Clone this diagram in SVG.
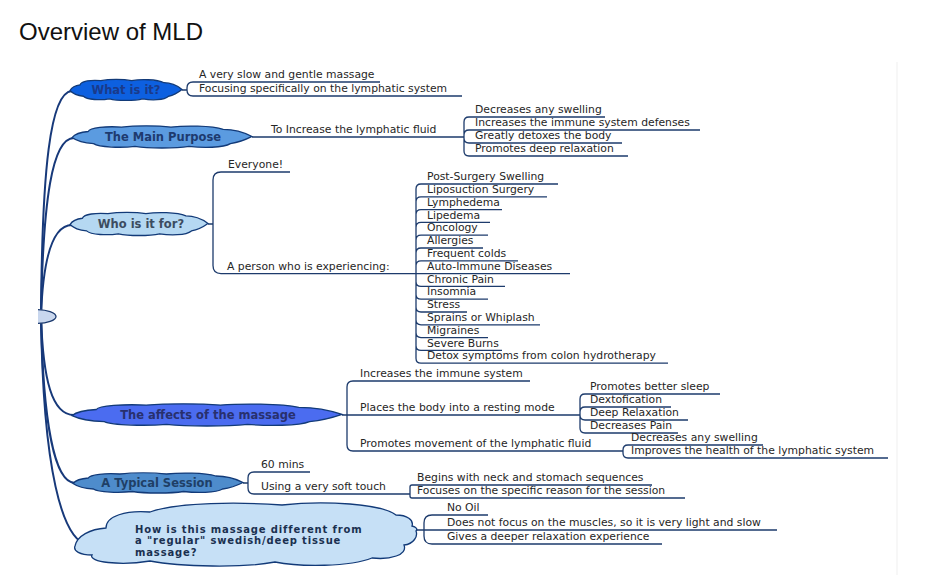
<svg xmlns="http://www.w3.org/2000/svg" xmlns:xlink="http://www.w3.org/1999/xlink" width="946" height="575" viewBox="0 0 946 575">
<style>
.title{font-family:"Liberation Sans",Arial,sans-serif;font-size:24px;fill:#111}
.t{font-family:"DejaVu Sans",Verdana,sans-serif;font-size:10.8px;fill:#262626}
.nt{font-family:"DejaVu Sans",Verdana,sans-serif;font-size:11.5px;font-weight:bold;text-anchor:middle}
.bt{font-family:"DejaVu Sans",Verdana,sans-serif;font-size:10px;font-weight:bold;letter-spacing:0.85px;fill:#1a3050}
.ln{fill:none;stroke:#1d3b6c;stroke-width:1.3}
.br{fill:none;stroke:#17397a;stroke-width:2}
.cl{stroke:#123a78;stroke-width:1.3}
</style>
<defs>
<path id="cloud" vector-effect="non-scaling-stroke" d="M -100,1 C -97,-5 -90,-9 -82,-10 C -80,-17 -62,-20 -45,-18 C -30,-21 -5,-21 10,-18 C 25,-21 55,-21 68,-14 C 80,-14 92,-8 100,-1 C 93,5 85,10 76,12 C 68,20 45,20 30,17 C 15,21 -15,21 -30,17 C -45,20 -70,19 -76,12 C -86,11 -95,7 -100,1 Z"/>
<clipPath id="clipL"><rect x="38" y="0" width="900" height="575"/></clipPath>
</defs>
<rect width="946" height="575" fill="#fff"/>
<line x1="897" y1="62" x2="897" y2="575" stroke="#efefef" stroke-width="1"/>
<text class="title" x="19" y="40">Overview of MLD</text>

<g id="connectors">
  <path class="br" d="M 41,316 C 42,170 50,92 72,91"/>
  <path class="br" d="M 41,316 C 43,200 52,138 74,138"/>
  <path class="br" d="M 41,316 C 43,260 52,225 72,225"/>
  <path class="br" d="M 41,316 C 43,380 52,415 74,415"/>
  <path class="br" d="M 41,316 C 43,420 54,483 75,483"/>
  <path class="br" d="M 41,316 C 43,470 62,540 88,545"/>

  <path class="ln" d="M 182,90 H 187 V 88 M 187,88 Q 187,82 193,82 H 380 M 187,90 Q 187,96 193,96 H 462"/>

  <path class="ln" d="M 252,137 H 464 M 464,122 V 151 M 464,122 Q 464,117 469,117 H 605 M 464,135 Q 464,130 469,130 H 700 M 464,138 Q 464,143 469,143 H 622 M 464,151 Q 464,156 469,156 H 628"/>

  <path class="ln" d="M 208,224 H 213 M 213,180 V 265.6 M 213,180 Q 213,172 221,172 H 290 M 213,265.6 Q 213,273.6 221,273.6 H 570"/>

  <path class="ln" d="M 416,189 V 358.2
   M 416,189 Q 416,184 421,184 H 558
   M 416,201.8 Q 416,196.8 421,196.8 H 547
   M 416,214.6 Q 416,209.6 421,209.6 H 502
   M 416,227.4 Q 416,222.4 421,222.4 H 490
   M 416,240.2 Q 416,235.2 421,235.2 H 488
   M 416,253 Q 416,248 421,248 H 483
   M 416,265.8 Q 416,260.8 421,260.8 H 518
   M 416,281.4 Q 416,286.4 421,286.4 H 505
   M 416,294.2 Q 416,299.2 421,299.2 H 488
   M 416,307 Q 416,312 421,312 H 467
   M 416,319.8 Q 416,324.8 421,324.8 H 540
   M 416,332.6 Q 416,337.6 421,337.6 H 488
   M 416,345.4 Q 416,350.4 421,350.4 H 502
   M 416,358.2 Q 416,363.2 421,363.2 H 668"/>

  <path class="ln" d="M 342,415 H 580 M 347,387 V 445 M 347,387 Q 347,381 353,381 H 530 M 347,445 Q 347,451 353,451 H 623"/>
  <path class="ln" d="M 580,399 V 428 M 580,399 Q 580,394 585,394 H 720 M 580,412 Q 580,407 585,407 H 671 M 580,415 Q 580,420 585,420 H 688 M 580,428 Q 580,433 585,433 H 678"/>
  <path class="ln" d="M 623,450 V 453 M 623,450 Q 623,445 628,445 H 763 M 623,453 Q 623,458 628,458 H 888"/>

  <path class="ln" d="M 243,483 H 248 M 248,478 V 488 M 248,478 Q 248,472 254,472 H 310 M 248,488 Q 248,494 254,494 H 410"/>
  <path class="ln" d="M 410,487 V 496 M 410,487 Q 410,485 412,485 H 652 M 410,496 Q 410,498 412,498 H 685"/>

  <path class="ln" d="M 416,530 H 777 M 424,523 V 536 M 424,523 Q 424,515 432,515 H 488 M 424,536 Q 424,544 432,544 H 662"/>
</g>

<g id="root" clip-path="url(#clipL)">
  <ellipse cx="36" cy="316.5" rx="20" ry="7" fill="#c9d7ee" stroke="#1c3a6e" stroke-width="1.3"/>
</g>

<g id="what-is-it">
  <use xlink:href="#cloud" class="cl" fill="#0d60e0" transform="translate(126,90) scale(0.56,0.52)"/>
  <text class="nt" x="126" y="94" fill="#1a3a8a">What is it?</text>
</g>
<g id="what-is-it-items">
  <text class="t" x="199" y="78">A very slow and gentle massage</text>
  <text class="t" x="199" y="92">Focusing specifically on the lymphatic system</text>
</g>

<g id="main-purpose">
  <use xlink:href="#cloud" class="cl" fill="#5b9be0" transform="translate(162,137) scale(0.9,0.55)"/>
  <text class="nt" x="163" y="141" fill="#1e3a6e">The Main Purpose</text>
</g>
<g id="main-purpose-items">
  <text class="t" x="271" y="133">To Increase the lymphatic fluid</text>
  <text class="t" x="475" y="113">Decreases any swelling</text>
  <text class="t" x="475" y="126">Increases the immune system defenses</text>
  <text class="t" x="475" y="139">Greatly detoxes the body</text>
  <text class="t" x="475" y="152">Promotes deep relaxation</text>
</g>

<g id="who-is-it-for">
  <use xlink:href="#cloud" class="cl" fill="#b5d8f2" transform="translate(139,224) scale(0.69,0.575)"/>
  <text class="nt" x="141" y="228" fill="#3c4c60">Who is it for?</text>
</g>
<g id="who-items">
  <text class="t" x="228" y="168">Everyone!</text>
  <text class="t" x="227" y="269.5">A person who is experiencing:</text>
  <text class="t" x="427" y="180.2">Post-Surgery Swelling</text>
  <text class="t" x="427" y="193">Liposuction Surgery</text>
  <text class="t" x="427" y="205.8">Lymphedema</text>
  <text class="t" x="427" y="218.6">Lipedema</text>
  <text class="t" x="427" y="231.4">Oncology</text>
  <text class="t" x="427" y="244.2">Allergies</text>
  <text class="t" x="427" y="257">Frequent colds</text>
  <text class="t" x="427" y="269.8">Auto-Immune Diseases</text>
  <text class="t" x="427" y="282.6">Chronic Pain</text>
  <text class="t" x="427" y="295.4">Insomnia</text>
  <text class="t" x="427" y="308.2">Stress</text>
  <text class="t" x="427" y="321">Sprains or Whiplash</text>
  <text class="t" x="427" y="333.8">Migraines</text>
  <text class="t" x="427" y="346.6">Severe Burns</text>
  <text class="t" x="427" y="359.4">Detox symptoms from colon hydrotherapy</text>
</g>

<g id="affects">
  <use xlink:href="#cloud" class="cl" fill="#4b6cf0" transform="translate(207,415) scale(1.35,0.55)"/>
  <text class="nt" x="208" y="419" fill="#28306e">The affects of the massage</text>
</g>
<g id="affects-items">
  <text class="t" x="360" y="377">Increases the immune system</text>
  <text class="t" x="360" y="411">Places the body into a resting mode</text>
  <text class="t" x="360" y="447">Promotes movement of the lymphatic fluid</text>
  <text class="t" x="590" y="390">Promotes better sleep</text>
  <text class="t" x="590" y="403">Dextofication</text>
  <text class="t" x="590" y="416">Deep Relaxation</text>
  <text class="t" x="590" y="429">Decreases Pain</text>
  <text class="t" x="631" y="441">Decreases any swelling</text>
  <text class="t" x="631" y="454">Improves the health of the lymphatic system</text>
</g>

<g id="typical-session">
  <use xlink:href="#cloud" class="cl" fill="#4e8ccc" transform="translate(158,483) scale(0.85,0.5)"/>
  <text class="nt" x="157" y="487" fill="#1f3f66">A Typical Session</text>
</g>
<g id="typical-items">
  <text class="t" x="261" y="468">60 mins</text>
  <text class="t" x="261" y="490">Using a very soft touch</text>
  <text class="t" x="417" y="481">Begins with neck and stomach sequences</text>
  <text class="t" x="417" y="494">Focuses on the specific reason for the session</text>
</g>

<g id="different">
  <path class="cl" fill="#c6e0f6" d="M 75,546 C 77,536 90,529 106,528 C 106,516 126,510 150,512 C 178,502 240,502 282,505 C 325,500 382,504 396,515 C 407,515 414,520 412,526 C 416,527 418,529 416,531 C 418,536 414,544 404,545 C 408,555 390,560 372,558 C 350,567 300,567 275,562 C 245,568 180,567 150,561 C 120,566 88,562 92,555 C 80,555 73,551 75,546 Z"/>
  <text class="bt" x="135" y="532.5">How is this massage different from</text>
  <text class="bt" x="135" y="544.2">a "regular" swedish/deep tissue</text>
  <text class="bt" x="135" y="555.9">massage?</text>
</g>
<g id="different-items">
  <text class="t" x="447" y="511">No Oil</text>
  <text class="t" x="447" y="526">Does not focus on the muscles, so it is very light and slow</text>
  <text class="t" x="447" y="540">Gives a deeper relaxation experience</text>
</g>
</svg>
